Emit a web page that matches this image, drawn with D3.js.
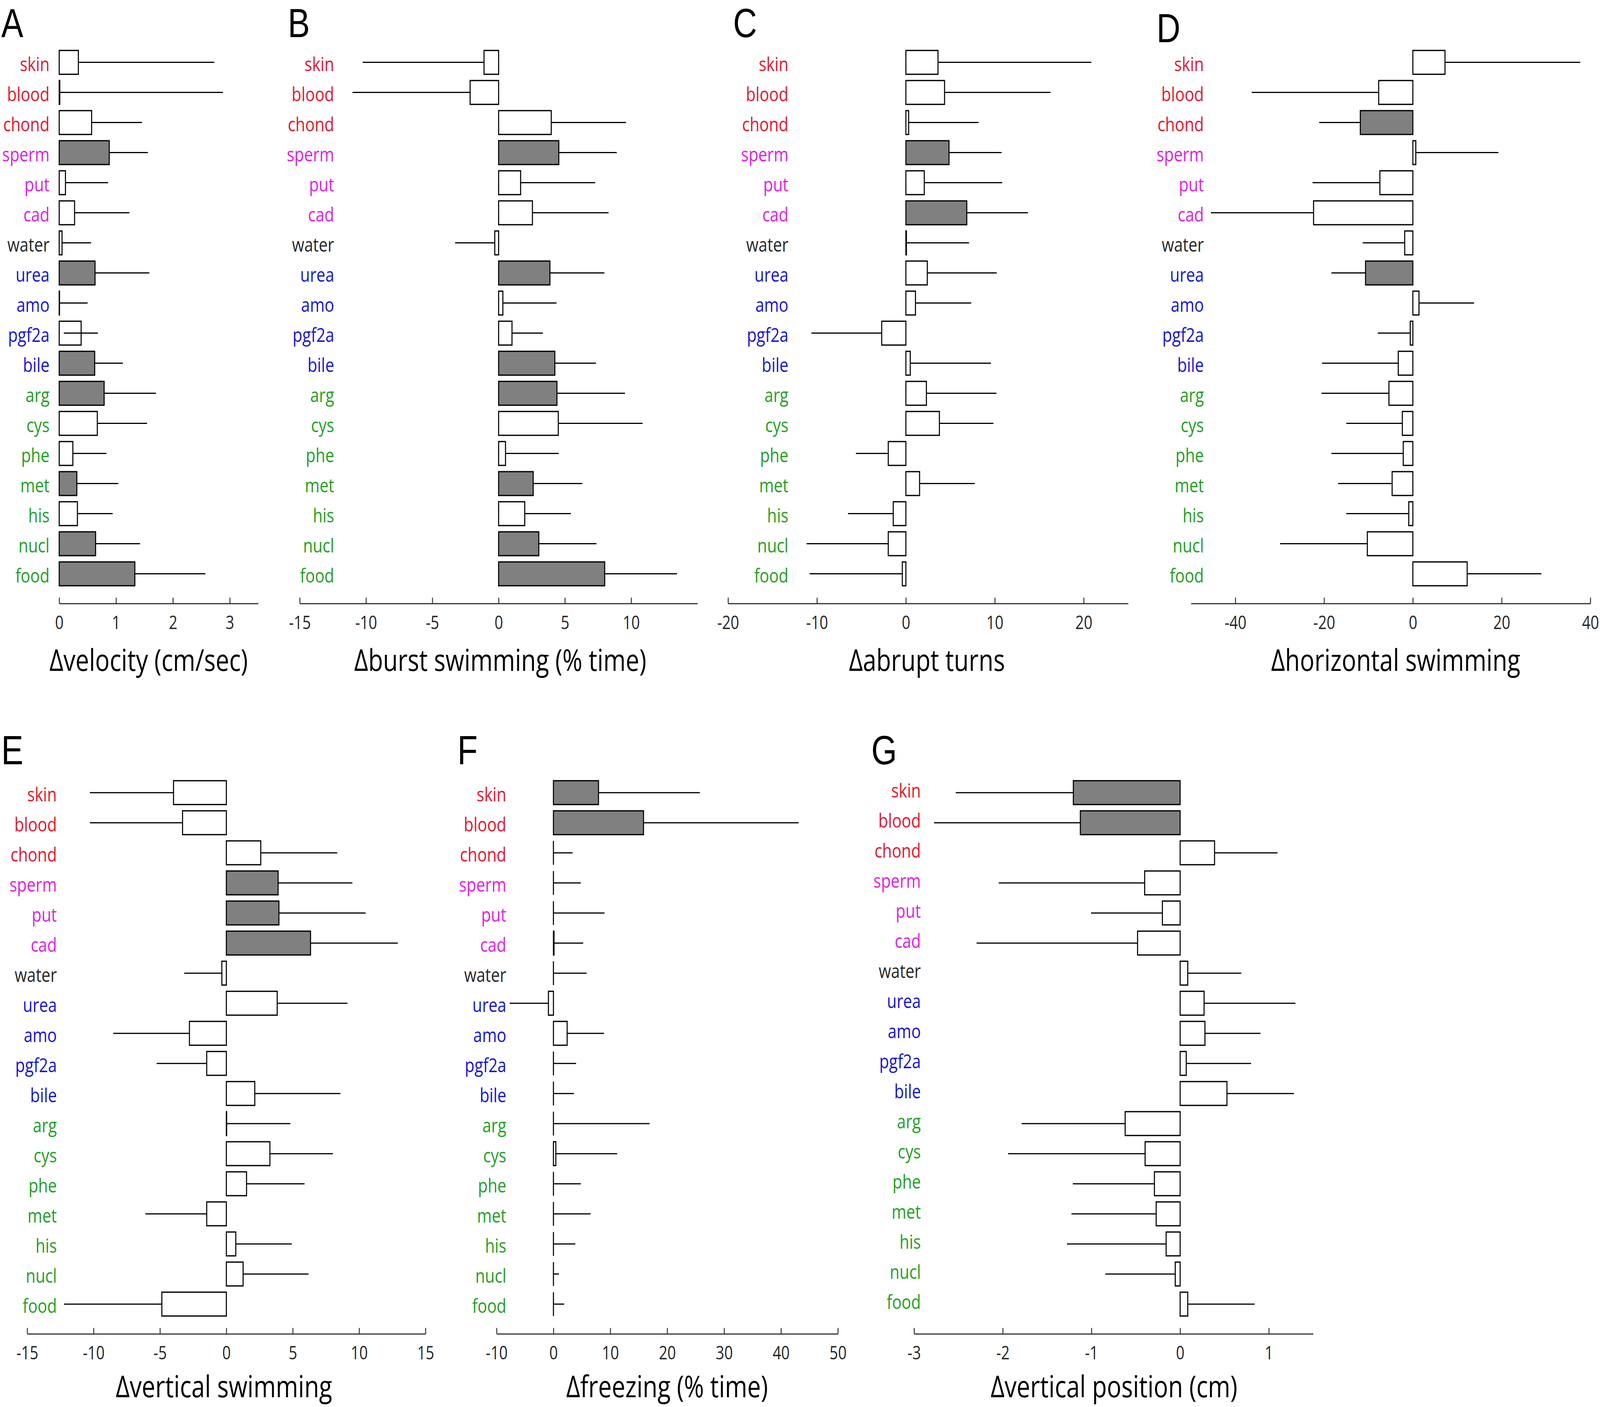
<!DOCTYPE html>
<meta charset="utf-8">
<style>
  html, body { margin: 0; padding: 0; background: #fff; overflow: hidden; }
  svg { display: block; width: 100vw; height: 100vh; }
  .rowlab { font-family: "Open Sans", "Noto Sans", sans-serif; font-size: 50px; }
  .axtitle { font-family: "Open Sans", "Noto Sans", sans-serif; font-size: 76px; fill: #000; }
  .letter { font-family: "Liberation Sans", Arial, sans-serif; font-size: 104px; fill: #000; }
</style>
<!-- the page is laid out in the reference's 5037x3601 pixels and fills the window -->
<svg viewBox="0 0 5037 3601" preserveAspectRatio="none"></svg>
<script src="https://d3js.org/d3.v7.min.js"></script>
<script>

// odour categories, top to bottom
var categories = ["skin", "blood", "chond", "sperm", "put", "cad", "water", "urea", "amo",
  "pgf2a", "bile", "arg", "cys", "phe", "met", "his", "nucl", "food"];
var categoryGroup = ["alarm", "alarm", "alarm", "social", "social", "social", "control",
  "bile", "bile", "bile", "bile", "amino", "amino", "amino", "amino", "amino", "amino", "amino"];

// A: velocity (cm/sec)
var velocityMean = [0.337, 0.01, 0.57, 0.88, 0.11, 0.27, 0.05, 0.63, 0.005, 0.386, 0.624, 0.79, 0.67, 0.24, 0.31, 0.32, 0.64, 1.33];
var velocityWhisker = [2.73, 2.88, 1.455, 1.56, 0.86, 1.235, 0.56, 1.585, 0.50, 0.68, 1.12, 1.70, 1.545, 0.83, 1.04, 0.94, 1.42, 2.57];
var velocityWhiskerFrom = [null, null, null, null, null, null, null, null, null, 0.08, null, null, null, null, null, null, null, null];
var velocityFilled = ["sperm", "urea", "bile", "arg", "met", "nucl", "food"];
var velocityTicks = [0, 1, 2, 3];

// B: burst swimming (% time)
var burstMean = [-1.10, -2.15, 3.97, 4.54, 1.66, 2.55, -0.29, 3.87, 0.32, 1.01, 4.24, 4.40, 4.50, 0.52, 2.61, 1.97, 3.03, 8.00];
var burstWhisker = [-10.25, -11.02, 9.61, 8.91, 7.28, 8.29, -3.28, 7.98, 4.37, 3.34, 7.34, 9.53, 10.86, 4.54, 6.32, 5.45, 7.38, 13.45];
var burstFilled = ["sperm", "urea", "bile", "arg", "met", "nucl", "food"];
var burstTicks = [-15, -10, -5, 0, 5, 10];

// C: abrupt turns
var turnsMean = [3.61, 4.35, 0.31, 4.85, 2.07, 6.85, 0.06, 2.41, 1.08, -2.72, 0.49, 2.31, 3.77, -1.98, 1.54, -1.42, -1.98, -0.40];
var turnsWhisker = [20.86, 16.27, 8.18, 10.77, 10.83, 13.73, 7.1, 10.22, 7.35, -10.62, 9.57, 10.19, 9.85, -5.62, 7.75, -6.51, -11.17, -10.83];
var turnsFilled = ["sperm", "cad"];
var turnsTicks = [-20, -10, 0, 10, 20];

// D: horizontal swimming
var horizMean = [7.24, -7.70, -11.84, 0.66, -7.43, -22.37, -1.84, -10.66, 1.38, -0.59, -3.29, -5.39, -2.37, -2.17, -4.67, -0.92, -10.26, 12.24];
var horizWhisker = [37.7, -36.3, -21.1, 19.28, -22.6, -45.5, -11.3, -18.36, 13.8, -7.9, -20.46, -20.6, -15.0, -18.36, -16.84, -15.0, -29.93, 28.95];
var horizFilled = ["chond", "urea"];
var horizTicks = [-40, -20, 0, 20, 40];

// E: vertical swimming
var vertMean = [-3.98, -3.30, 2.59, 3.90, 3.96, 6.34, -0.34, 3.83, -2.78, -1.48, 2.14, 0.02, 3.28, 1.52, -1.48, 0.71, 1.26, -4.86];
var vertWhisker = [-10.28, -10.28, 8.35, 9.49, 10.49, 12.91, -3.17, 9.12, -8.52, -5.25, 8.59, 4.82, 8.03, 5.89, -6.10, 4.93, 6.19, -12.23];
var vertFilled = ["sperm", "put", "cad"];
var vertTicks = [-15, -10, -5, 0, 5, 10, 15];

// F: freezing (% time)
var freezeMean = [7.92, 15.83, 0, 0, 0, 0.1, 0, -0.88, 2.41, 0, 0, 0, 0.42, 0, 0, 0, 0, 0];
var freezeWhisker = [25.74, 43.1, 3.38, 4.81, 8.98, 5.23, 5.83, -7.69, 8.89, 3.98, 3.61, 16.9, 11.2, 4.81, 6.53, 3.84, 0.97, 1.90];
var freezeFilled = ["skin", "blood"];
var freezeTicks = [-10, 0, 10, 20, 30, 40, 50];

// G: vertical position (cm)
var vposMean = [-1.204, -1.125, 0.388, -0.40, -0.20, -0.48, 0.086, 0.27, 0.28, 0.069, 0.528, -0.62, -0.395, -0.29, -0.27, -0.158, -0.055, 0.086];
var vposWhisker = [-2.53, -2.775, 1.098, -2.045, -1.005, -2.295, 0.69, 1.30, 0.906, 0.80, 1.283, -1.787, -1.94, -1.21, -1.225, -1.276, -0.844, 0.84];
var vposFilled = ["skin", "blood"];
var vposTicks = [-3, -2, -1, 0, 1];

var groupColor = d3.scaleOrdinal()
  .domain(["alarm", "social", "control", "bile", "amino"])
  .range(["#e6162d", "#e020e0", "#262626", "#1414d9", "#23a023"]);

var svg = d3.select("svg");

// panel layout (pixels in the 5037x3601 viewBox)
var panels = [
  {letter: "A", title: "\u0394velocity (cm/sec)", mean: velocityMean, whisker: velocityWhisker, from: velocityWhiskerFrom,
   filled: velocityFilled, ticks: velocityTicks, domain: [0, 3.5], range: [186.4, 812.9],
   labelRight: 156, titleX: 468, letterX: 4, letterY: 95, rowTop: 159.6, labelShift: 0},
  {letter: "B", title: "\u0394burst swimming (% time)", mean: burstMean, whisker: burstWhisker,
   filled: burstFilled, ticks: burstTicks, domain: [-15, 15], range: [943.6, 2195.8],
   labelRight: 1052, titleX: 1575, letterX: 906, letterY: 95, rowTop: 159.6, labelShift: 0},
  {letter: "C", title: "\u0394abrupt turns", mean: turnsMean, whisker: turnsWhisker,
   filled: turnsFilled, ticks: turnsTicks, domain: [-20, 25], range: [2292, 3551.6],
   labelRight: 2482, titleX: 2918, letterX: 2308, letterY: 95, rowTop: 159.6, labelShift: 0},
  {letter: "D", title: "\u0394horizontal swimming", mean: horizMean, whisker: horizWhisker,
   filled: horizFilled, ticks: horizTicks, domain: [-50, 40], range: [3749.3, 5006.7],
   labelRight: 3790, titleX: 4394, letterX: 3641, letterY: 108, rowTop: 159.6, labelShift: 0},
  {letter: "E", title: "\u0394vertical swimming", mean: vertMean, whisker: vertWhisker,
   filled: vertFilled, ticks: vertTicks, domain: [-15, 15], range: [85.6, 1339.6],
   labelRight: 179, titleX: 705, letterX: 4, letterY: 1956, rowTop: 2028.7, labelShift: 0},
  {letter: "F", title: "\u0394freezing (% time)", mean: freezeMean, whisker: freezeWhisker,
   filled: freezeFilled, ticks: freezeTicks, domain: [-10, 50], range: [1563.2, 2637.8],
   labelRight: 1594, titleX: 2100, letterX: 1440, letterY: 1956, rowTop: 2028.7, labelShift: 0},
  {letter: "G", title: "\u0394vertical position (cm)", mean: vposMean, whisker: vposWhisker,
   filled: vposFilled, ticks: vposTicks, domain: [-3, 1.5], range: [2877.6, 4134],
   labelRight: 2899, titleX: 3507, letterX: 2743, letterY: 1956, rowTop: 2028.7, labelShift: -10}
];

var rowStep = 77, barH = 61;

panels.forEach(function(p) {
  var g = svg.append("g");
  var x = d3.scaleLinear().domain(p.domain).range(p.range);
  var y = d3.scalePoint().domain(categories).range([p.rowTop, p.rowTop + rowStep * (categories.length - 1)]);
  var axisY = p.rowTop + rowStep * categories.length - 1;

  var rows = categories.map(function(c, i) {
    return {cat: c, group: categoryGroup[i], mean: p.mean[i], whisker: p.whisker[i],
            from: p.from ? p.from[i] : null, filled: p.filled.indexOf(c) >= 0};
  });

  // row labels
  g.selectAll(".rowlab").data(rows).enter().append("text")
    .attr("class", "rowlab")
    .attr("x", p.labelRight)
    .attr("y", function(d) { return y(d.cat) + 22 + p.labelShift; })
    .attr("text-anchor", "end")
    .style("fill", function(d) { return groupColor(d.group); })
    .text(function(d) { return d.cat; });

  // bars (path so zero-width bars still show their outline)
  g.selectAll(".bar").data(rows).enter().append("path")
    .attr("class", "bar")
    .attr("d", function(d) {
      var x0 = x(0), x1 = x(d.mean), y0 = y(d.cat) - barH / 2, y1 = y(d.cat) + barH / 2;
      return "M" + x0 + "," + y0 + "H" + x1 + "V" + y1 + "H" + x0 + "Z";
    })
    .attr("fill", function(d) { return d.filled ? "#808080" : "#fff"; })
    .attr("stroke", "#000")
    .attr("stroke-width", 3.3);

  // whiskers
  g.selectAll(".wh").data(rows).enter().append("line")
    .attr("class", "wh")
    .attr("x1", function(d) { return x(d.from != null ? d.from : d.mean); })
    .attr("x2", function(d) { return x(d.whisker); })
    .attr("y1", function(d) { return y(d.cat); })
    .attr("y2", function(d) { return y(d.cat); })
    .attr("stroke", "#000")
    .attr("stroke-width", 3);

  // x axis
  var ax = g.append("g")
    .attr("transform", "translate(0," + axisY + ")")
    .call(d3.axisBottom(x).tickValues(p.ticks).tickSize(-15).tickSizeOuter(0).tickPadding(32)
      .tickFormat(function(d) { return String(d); }));
  ax.select(".domain").attr("stroke", "#333").attr("stroke-width", 3);
  ax.selectAll(".tick line").attr("stroke", "#333").attr("stroke-width", 3);
  ax.selectAll(".tick text")
    .attr("font-family", "'Open Sans', 'Noto Sans', sans-serif")
    .attr("font-size", 47)
    .attr("fill", "#262626");

  // keep the bottom row's descenders inside the picture
  g.append("text").attr("class", "axtitle")
    .attr("x", p.titleX).attr("y", Math.min(axisY + 172, 3576))
    .attr("text-anchor", "middle")
    .text(p.title);

  g.append("text").attr("class", "letter")
    .attr("x", p.letterX).attr("y", p.letterY)
    .text(p.letter);
});

</script>
